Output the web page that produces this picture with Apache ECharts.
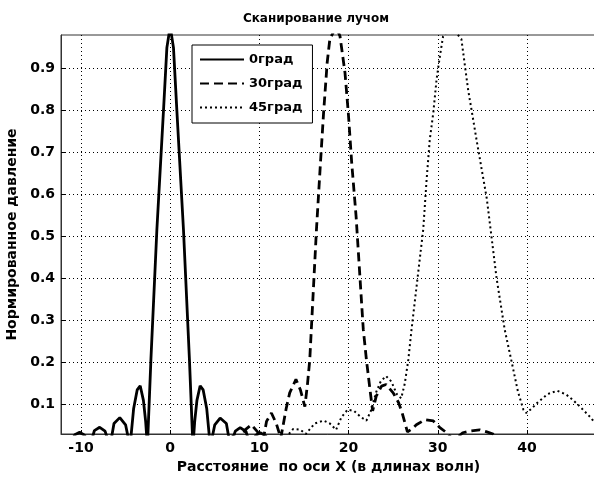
<!DOCTYPE html>
<html>
<head>
<meta charset="utf-8">
<script src="https://cdn.jsdelivr.net/npm/echarts@6/dist/echarts.min.js"></script>
<style>
html,body{margin:0;padding:0;background:#fff;}
#c{width:594px;height:480px;}
</style>
</head>
<body>
<div id="c"></div>
<script>
// ---- data ----
const seriesNames = ['0град', '30град', '45град'];

const x0 = [-12.2, -11.3, -10.7, -10.15, -9.6, -9.0, -8.5, -7.9, -7.3, -6.75, -6.3, -5.65, -5.0, -4.5, -4.1, -3.7, -3.36, -3.0, -2.75, -2.55, -2.16, -1.49, -0.75, -0.37, 0,
            0.37, 0.75, 1.49, 2.16, 2.55, 2.75, 3.0, 3.36, 3.7, 4.1, 4.5, 5.0, 5.6, 6.3, 6.75, 7.3, 7.85, 8.5, 9.0, 9.6, 10.1, 10.7, 11.3, 12.0];
const y0 = [0.02, 0.0, 0.028, 0.034, 0.027, 0.0, 0.038, 0.046, 0.037, 0.0, 0.055, 0.069, 0.052, 0.0, 0.09, 0.135, 0.145, 0.11, 0.06, 0.0, 0.207, 0.517, 0.80, 0.95, 1.0,
            0.95, 0.80, 0.517, 0.207, 0.0, 0.06, 0.11, 0.145, 0.135, 0.09, 0.0, 0.052, 0.068, 0.055, 0.0, 0.037, 0.045, 0.036, 0.0, 0.027, 0.033, 0.026, 0.0, 0.02];

const x30 = [5.0, 5.8, 6.8, 7.6, 8.4, 9.1, 9.8, 10.3, 10.8, 11.35, 11.9, 12.4, 13.0, 13.4, 14.1, 14.6, 15.1, 15.4, 15.65, 16.4, 16.85, 17.2, 17.6, 17.9, 18.6,
             19.04, 19.6, 19.97, 20.35, 20.84, 21.65, 22.0, 22.4, 22.7, 23.1, 23.7, 24.2, 25.0, 25.6, 26.0, 26.6, 27.1, 27.6, 28.55, 29.5, 30.2, 31.0, 31.8,
             32.8, 33.6, 34.7, 35.5, 36.2, 37.0, 38.0];
const y30 = [0.015, 0.0, 0.032, 0.0, 0.04, 0.052, 0.035, 0.0, 0.06, 0.08, 0.055, 0.02, 0.09, 0.128, 0.16, 0.135, 0.095, 0.15, 0.207, 0.517, 0.676, 0.795, 0.914, 0.97, 1.0,
             0.977, 0.89, 0.795, 0.676, 0.549, 0.279, 0.207, 0.136, 0.085, 0.12, 0.144, 0.148, 0.128, 0.105, 0.081, 0.035, 0.042, 0.052, 0.064, 0.061, 0.046, 0.033, 0.015,
             0.033, 0.037, 0.04, 0.035, 0.03, 0.015, 0.0];

const x45 = [10.0, 11.5, 12.5, 13.8, 14.6, 15.2, 16.2, 17.2, 17.9, 18.6, 19.2, 19.9, 20.6, 21.4, 22.0, 22.5, 23.1, 23.6, 24.2, 24.8, 25.4, 25.9, 26.3, 26.7,
             27.06, 28.37, 28.75, 29.1, 29.5, 29.87, 30.24, 30.6, 31.5, 32.65, 33.0, 33.4, 33.8, 34.35, 35.5, 36.6, 37.5, 38.3, 39.0, 39.6, 39.9,
             40.5, 41.2, 42.3, 43.4, 44.4, 45.2, 45.9, 47.2, 47.8];
const y45 = [0.01, 0.02, 0.01, 0.042, 0.04, 0.03, 0.055, 0.062, 0.055, 0.04, 0.07, 0.088, 0.085, 0.07, 0.062, 0.085, 0.13, 0.155, 0.168, 0.155, 0.125, 0.115, 0.15, 0.207,
             0.279, 0.517, 0.636, 0.73, 0.795, 0.875, 0.93, 0.977, 1.0, 0.97, 0.914, 0.85, 0.80, 0.73, 0.59, 0.40, 0.279, 0.2, 0.13, 0.088, 0.08,
             0.09, 0.105, 0.125, 0.133, 0.124, 0.11, 0.096, 0.068, 0.05];

const xTicks = [-10, 0, 10, 20, 30, 40];
const yTicks = [0.1, 0.2, 0.3, 0.4, 0.5, 0.6, 0.7, 0.8, 0.9];

const titleText = 'Сканирование лучом';
const xName = 'Расстояние  по оси X (в длинах волн)';
const yName = 'Нормированное давление';

// ---- chart ----
const zip = (xs, ys) => xs.map((x, i) => [x, ys[i]]);
const FONT = '"DejaVu Sans", "Liberation Sans", Arial, sans-serif';
const chart = echarts.init(document.getElementById('c'), null, {renderer: 'canvas'});

const lineBase = {type: 'line', symbol: 'none', showSymbol: false, smooth: false, animation: false, clip: true};

chart.setOption({
  backgroundColor: '#fff',
  animation: false,
  title: {
    text: titleText, left: 311, top: 8, textAlign: 'center',
    textStyle: {fontFamily: FONT, fontWeight: 'bold', fontSize: 12, color: '#000'}
  },
  grid: {left: 61, right: -2, top: 35, bottom: 46, outerBoundsMode: 'none', containLabel: false,
    show: true, borderColor: '#333', borderWidth: 1, backgroundColor: '#fff'},
  legend: {
    orient: 'vertical', left: 192, top: 45,
    data: seriesNames,
    backgroundColor: '#fff', borderColor: '#000', borderWidth: 1, borderRadius: 0,
    padding: [8, 10, 9, 7], itemWidth: 44, itemHeight: 14, itemGap: 11,
    itemStyle: {opacity: 0, color: 'transparent', borderWidth: 0},
    textStyle: {fontFamily: FONT, fontWeight: 'bold', fontSize: 13, color: '#000'}
  },
  xAxis: {
    type: 'value', min: -12.24, max: 47.74,
    name: xName, nameLocation: 'middle', nameGap: 26,
    nameTextStyle: {fontFamily: FONT, fontWeight: 'bold', fontSize: 14, color: '#000'},
    axisLine: {show: true, onZero: false, lineStyle: {color: '#333', width: 1}},
    axisTick: {show: true, inside: true, length: 4, customValues: xTicks, lineStyle: {color: '#000'}},
    axisLabel: {customValues: xTicks, margin: 7, fontFamily: FONT, fontWeight: 'bold', fontSize: 14, color: '#000'},
    splitLine: {show: true, lineStyle: {color: '#000', type: [1, 3], width: 1}}
  },
  yAxis: {
    type: 'value', min: 0.03, max: 0.98,
    name: yName, nameLocation: 'middle', nameGap: 37,
    nameTextStyle: {fontFamily: FONT, fontWeight: 'bold', fontSize: 14, color: '#000'},
    axisLine: {show: true, onZero: false, lineStyle: {color: '#333', width: 1}},
    axisTick: {show: true, inside: true, length: 4, customValues: yTicks, lineStyle: {color: '#000'}},
    axisLabel: {customValues: yTicks, margin: 6, fontFamily: FONT, fontWeight: 'bold', fontSize: 14, color: '#000',
      formatter: v => v.toFixed(1)},
    splitLine: {show: true, lineStyle: {color: '#000', type: [1, 3], width: 1}}
  },
  series: [
    Object.assign({}, lineBase, {name: seriesNames[0], data: zip(x0, y0), lineStyle: {color: '#000', width: 2.8, type: 'solid'}, itemStyle: {color: '#000'}}),
    Object.assign({}, lineBase, {name: seriesNames[1], data: zip(x30, y30), lineStyle: {color: '#000', width: 2.8, type: [9, 5]}, itemStyle: {color: '#000'}}),
    Object.assign({}, lineBase, {name: seriesNames[2], data: zip(x45, y45), lineStyle: {color: '#000', width: 2, type: [2, 3]}, itemStyle: {color: '#000'}})
  ]
});
</script>
</body>
</html>
